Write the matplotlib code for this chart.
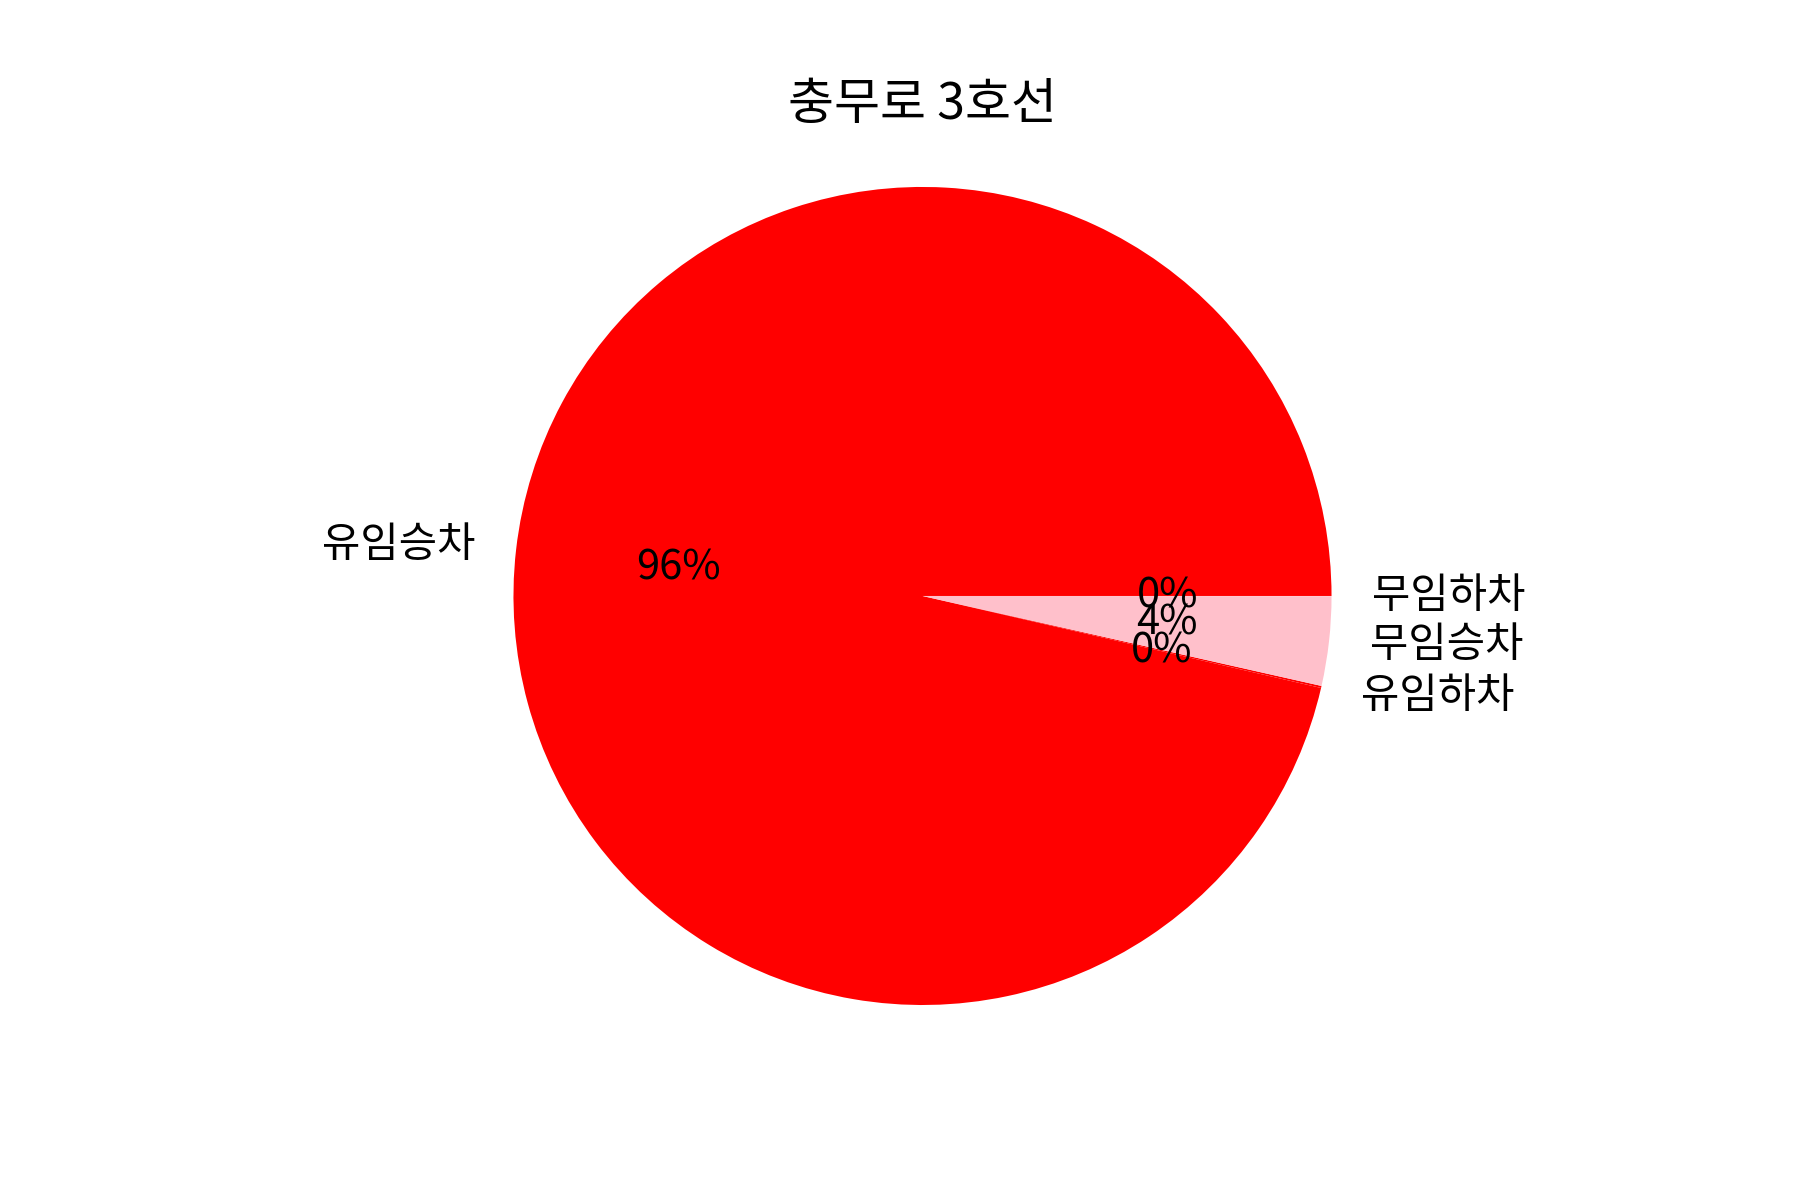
import matplotlib
matplotlib.use('Agg')
import matplotlib.pyplot as plt

plt.rcParams['font.family'] = ['Noto Sans CJK KR', 'DejaVu Sans']

title = '충무로 3호선'
labels = ['유임승차', '유임하차', '무임승차', '무임하차']
values = [9640, 8, 352, 1]
colors = ['red', 'red', 'pink', 'pink']

fig = plt.figure(figsize=(6, 4), dpi=300)
ax = fig.add_subplot(111)
ax.pie(values, labels=labels, colors=colors, autopct='%.0f%%')
ax.set_title(title)

# match the original framing (circle sits a bit above the axes centre)
ax.set_ylim(-1.154, 1.105)
ax.set_aspect('equal', adjustable='datalim')

plt.savefig('out.png', dpi=300)
